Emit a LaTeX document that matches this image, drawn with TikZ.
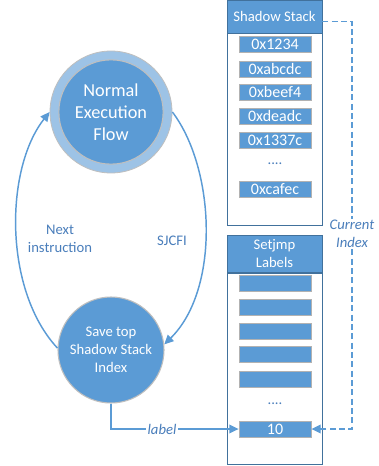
\documentclass[tikz,border=0pt]{standalone}
\usepackage{fontspec}
\setmainfont{Carlito}
\usetikzlibrary{arrows.meta,positioning}

\definecolor{cfiblue}{HTML}{5B9BD5}
\definecolor{cfilight}{HTML}{9DC3E6}
\definecolor{cfitext}{HTML}{4A7EBB}
\definecolor{cfiedge}{HTML}{41719C}

\begin{document}
\begin{tikzpicture}[x=0.75pt, y=-0.75pt,
    txt/.style = {font=\fontsize{11}{13.5}\selectfont},
    state/.style = {circle, fill=cfiblue, draw=black!25, line width=0.8pt, text=white, align=center, txt},
    head/.style = {rectangle, fill=cfiblue, draw=cfiedge, line width=0.5pt, minimum width=71.25pt, text=white, align=center, txt},
    body/.style = {rectangle, draw=cfiedge, line width=0.7pt, minimum width=71.25pt},
    slot/.style = {rectangle, fill=cfiblue, draw=black!30, line width=0.6pt, minimum width=54pt, minimum height=12pt, inner sep=0pt, text=white, font=\fontsize{12}{12}\selectfont},
    note/.style = {text=cfitext, align=center, txt},
    flow/.style = {draw=cfiblue, line width=1.1pt, -{Triangle[length=7pt,width=6.5pt]}},
    ptr/.style = {flow, dash pattern=on 4.5pt off 2.5pt}]
\useasboundingbox (0,0) rectangle (378,466);

% the two states of the loop
\node[circle, fill=cfilight, draw=black!25, line width=0.6pt, minimum size=91.5pt] (ring) at (111,112) {};
\node[state, minimum size=72pt, font=\fontsize{13.7}{16.5}\selectfont] (norm) at (111,112) {Normal\\Execution\\Flow};
\node[state, minimum size=79.5pt] (save) at (111,350) {Save top\\Shadow Stack\\Index};

% shadow stack
\node[head, minimum height=24.75pt] (sshead) at (274.5,16.5) {Shadow Stack};
\node[body, minimum height=144pt, below=0pt of sshead] (ssbody) {};
\foreach \val/\y [count=\i] in {0x1234/44.5, 0xabcdc/69, 0xbeef4/92.5, 0xdeadc/116, 0x1337c/140}
  \node[slot] (ss\i) at (275,\y) {\val};
\node[txt, text=cfitext] (ssdots) at (275,164) {....};
\node[slot] (sstop) at (275,189) {0xcafec};

% setjmp labels
\node[head, minimum height=25.5pt] (lbhead) at (274.5,254) {Setjmp\\Labels};
\node[body, minimum height=143.25pt, below=0pt of lbhead] (lbbody) {};
\foreach \y [count=\i] in {283, 307, 331, 354.5, 379}
  \node[slot] (lb\i) at (275,\y) {};
\node[txt, text=cfitext] (lbdots) at (275,404) {....};
\node[slot] (ten) at (275,429) {10};

% loop edges
\draw[flow] (save.178) .. controls +(-54,-58) and +(-45,57) .. (ring.west);
\draw[flow] (ring.east) .. controls +(43,57) and +(56,-55) .. (save.6);
\node[note] (next) at (60,239) {Next\\instruction};
\node[note] (sjcfi) at (172,241) {SJCFI};

% index pointer and saved label
\node[note, fill=white, inner sep=1pt, font=\itshape\fontsize{11}{13.5}\selectfont] (curidx) at (352,234) {Current\\Index};
\draw[ptr, -] ([yshift=-3.75pt]sshead.east) -| (curidx.north);
\draw[ptr] (curidx.south) |- (ten.east);
\draw[flow] (save.south) |- node[pos=0.7, fill=white, inner sep=1pt, text=cfitext, font=\itshape\fontsize{11}{13.5}\selectfont] (lbl) {label} (ten.west);
\end{tikzpicture}
\end{document}
